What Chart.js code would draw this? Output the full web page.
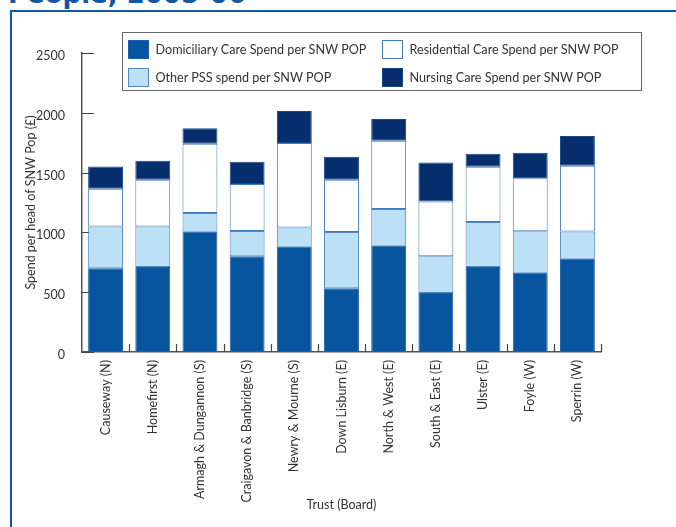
<!DOCTYPE html>
<html>
<head>
<meta charset="utf-8">
<title>Spend per head of SNW Pop by Trust</title>
<script src="https://cdn.jsdelivr.net/npm/chart.js@4.4.1/dist/chart.umd.min.js"></script>
<style>
  html, body { margin: 0; padding: 0; background: #fff; overflow: hidden; }
  body { width: 676px; height: 527px; position: relative; font-family: Lato, sans-serif; }
  .heading {
    position: absolute; left: 8px; top: -19px; margin: 0;
    font: bold 26px/26px "DejaVu Sans", sans-serif; color: #1257a5; white-space: nowrap;
  }
  .frame {
    position: absolute; left: 10px; top: 10px; right: -20px; bottom: -20px;
    border: 2.5px solid #1257a5;
  }
  #chart { position: absolute; left: 0; top: 0; }
  .legend {
    position: absolute; left: 122px; top: 32px; width: 513px; height: 50px;
    border: 1.5px solid #666; padding: 6.5px 0 0 4.5px;
    display: grid; grid-template-columns: 254px auto; row-gap: 5px;
    font-size: 12.6px; color: #333;
  }
  .legend .item { display: flex; align-items: center; height: 20px; }
  .legend .sw { width: 19px; height: 17px; border: 1.5px solid; margin-right: 7px; }
</style>
</head>
<body>
<h1 class="heading">People, 2005-06</h1>
<div class="frame"></div>
<canvas id="chart" width="676" height="527"></canvas>
<div class="legend" id="legend"></div>
<script>
  // Trusts (with Board in brackets)
  var trusts = [
    "Causeway (N)",
    "Homefirst (N)",
    "Armagh & Dungannon (S)",
    "Craigavon & Banbridge (S)",
    "Newry & Mourne (S)",
    "Down Lisburn (E)",
    "North & West (E)",
    "South & East (E)",
    "Ulster (E)",
    "Foyle (W)",
    "Sperrin (W)",
  ];

  // Spend per head of SNW population (£), one array per component
  var domiciliary = [700, 710, 1005, 800, 880, 533, 888, 494, 710, 662, 780];
  var otherPss = [350, 340, 157, 212, 160, 470, 307, 307, 376, 348, 228];
  var residential = [315, 390, 580, 392, 708, 438, 572, 458, 463, 442, 550];
  var nursing = [185, 160, 128, 187, 268, 192, 182, 326, 109, 215, 249];

  var yTicks = [0, 500, 1000, 1500, 2000, 2500];

  Chart.defaults.font.family = "Lato, sans-serif";
  Chart.defaults.font.size = 12.5;
  Chart.defaults.color = "#333";

  // Short tick marks drawn inward from the axes
  var innerTicks = {
    id: "innerTicks",
    beforeDatasetsDraw: function (chart) {
      var ctx = chart.ctx;
      var area = chart.chartArea;
      var x = chart.scales.x;
      var y = chart.scales.y;
      ctx.save();
      ctx.strokeStyle = "#444";
      ctx.lineWidth = 1.2;
      ctx.beginPath();
      yTicks.forEach(function (v) {
        var py = Math.round(y.getPixelForValue(v)) + 0.5;
        ctx.moveTo(area.left, py);
        ctx.lineTo(area.left + 12, py);
      });
      var step = (x.right - x.left) / trusts.length;
      for (var i = 1; i <= trusts.length; i++) {
        var px = Math.round(x.left + step * i) + 0.5;
        ctx.moveTo(px, area.bottom);
        ctx.lineTo(px, area.bottom - 8);
      }
      ctx.stroke();
      ctx.restore();
    },
  };

  var ctx = document.getElementById("chart").getContext("2d");
  var myChart = new Chart(ctx, {
    type: "bar",
    data: {
      labels: trusts,
      datasets: [
        {
          label: "Domiciliary Care Spend per SNW POP",
          data: domiciliary,
          backgroundColor: "#07549f",
          borderColor: "#1a60aa",
        },
        {
          label: "Other PSS spend per SNW POP",
          data: otherPss,
          backgroundColor: "#bce1f6",
          borderColor: "#4f88c3",
        },
        {
          label: "Residential Care Spend per SNW POP",
          data: residential,
          backgroundColor: "#ffffff",
          borderColor: "#3f7cbf",
        },
        {
          label: "Nursing Care Spend per SNW POP",
          data: nursing,
          backgroundColor: "#062d6c",
          borderColor: "#17478c",
        },
      ],
    },
    options: {
      responsive: false,
      animation: false,
      layout: { padding: { left: 0, top: 53, right: 75, bottom: 0 } },
      datasets: {
        bar: {
          borderWidth: 1,
          borderSkipped: false,
          barPercentage: 0.74,
          categoryPercentage: 1,
        },
      },
      plugins: {
        legend: { display: false },
        tooltip: { enabled: false },
      },
      scales: {
        x: {
          stacked: true,
          grid: { display: false },
          border: { display: true, color: "#555", width: 1.5 },
          ticks: {
            autoSkip: false,
            minRotation: 90,
            maxRotation: 90,
            padding: 0,
          },
          title: {
            display: true,
            text: "Trust (Board)",
            padding: { top: 0, bottom: 15 },
          },
          afterFit: function (scale) {
            scale.height = 175;
          },
        },
        y: {
          stacked: true,
          min: 0,
          max: 2500,
          grid: { display: false },
          border: { display: true, color: "#555", width: 1.5 },
          ticks: {
            stepSize: 500,
            padding: 9,
            labelOffset: 3,
            callback: function (value) {
              return String(value);
            },
          },
          title: {
            display: true,
            text: "Spend per head of SNW Pop (£)",
            padding: { top: 23, bottom: 0 },
          },
          afterFit: function (scale) {
            scale.width = 82;
          },
        },
      },
    },
    plugins: [innerTicks],
  });

  // Legend box: two columns, residential/nursing on the right
  var legendOrder = [0, 2, 1, 3];
  var legendEl = document.getElementById("legend");
  legendOrder.forEach(function (i) {
    var ds = myChart.data.datasets[i];
    var item = document.createElement("div");
    item.className = "item";
    var sw = document.createElement("span");
    sw.className = "sw";
    sw.style.background = ds.backgroundColor;
    sw.style.borderColor = ds.borderColor;
    var txt = document.createElement("span");
    txt.textContent = ds.label;
    item.appendChild(sw);
    item.appendChild(txt);
    legendEl.appendChild(item);
  });
</script>
</body>
</html>
